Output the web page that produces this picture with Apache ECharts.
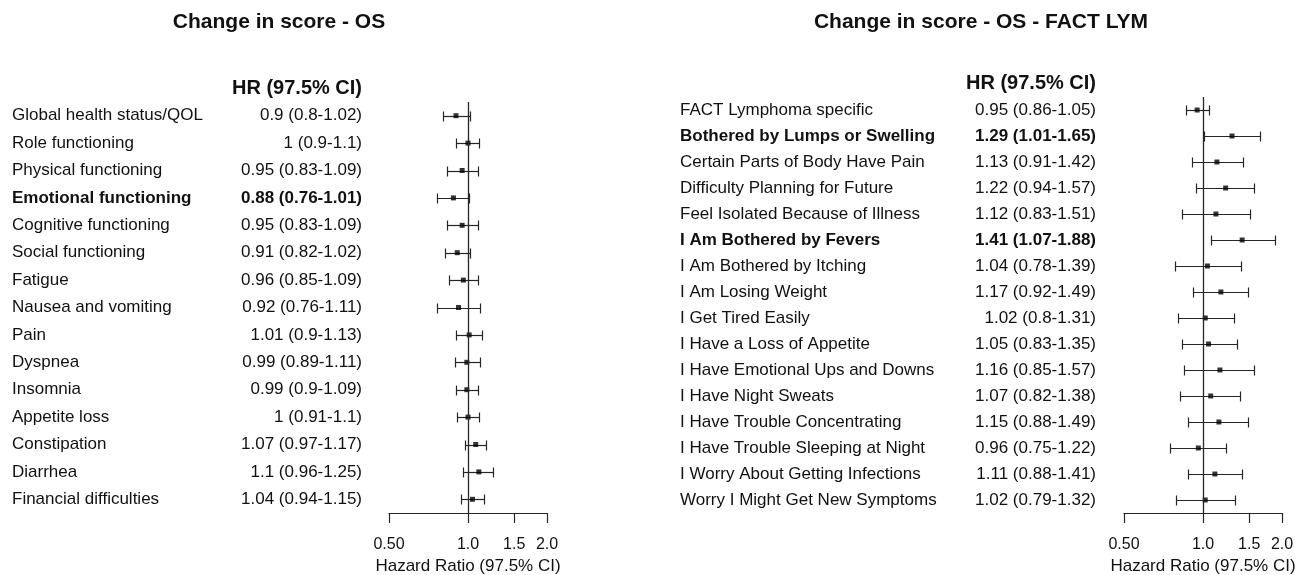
<!DOCTYPE html>
<html><head><meta charset="utf-8">
<script src="https://cdn.jsdelivr.net/npm/echarts@6/dist/echarts.min.js"></script>
<style>html,body{margin:0;padding:0;background:#fff}#c{width:1307px;height:575px}</style>
</head><body><div id="c"></div>
<script>
const leftTitle = 'Change in score - OS';
const rightTitle = 'Change in score - OS - FACT LYM';
const headerText = 'HR (97.5% CI)';
const axisName = 'Hazard Ratio (97.5% CI)';
const tickValues = [0.5, 1, 1.5, 2];
const tickLabels = ['0.50', '1.0', '1.5', '2.0'];

const leftNames = ['Global health status/QOL', 'Role functioning', 'Physical functioning', 'Emotional functioning',
  'Cognitive functioning', 'Social functioning', 'Fatigue', 'Nausea and vomiting', 'Pain', 'Dyspnea',
  'Insomnia', 'Appetite loss', 'Constipation', 'Diarrhea', 'Financial difficulties'];
const leftHR = [0.9, 1, 0.95, 0.88, 0.95, 0.91, 0.96, 0.92, 1.01, 0.99, 0.99, 1, 1.07, 1.1, 1.04];
const leftLo = [0.8, 0.9, 0.83, 0.76, 0.83, 0.82, 0.85, 0.76, 0.9, 0.89, 0.9, 0.91, 0.97, 0.96, 0.94];
const leftHi = [1.02, 1.1, 1.09, 1.01, 1.09, 1.02, 1.09, 1.11, 1.13, 1.11, 1.09, 1.1, 1.17, 1.25, 1.15];
const leftBold = ['Emotional functioning'];

const rightNames = ['FACT Lymphoma specific', 'Bothered by Lumps or Swelling', 'Certain Parts of Body Have Pain',
  'Difficulty Planning for Future', 'Feel Isolated Because of Illness', 'I Am Bothered by Fevers',
  'I Am Bothered by Itching', 'I Am Losing Weight', 'I Get Tired Easily', 'I Have a Loss of Appetite',
  'I Have Emotional Ups and Downs', 'I Have Night Sweats', 'I Have Trouble Concentrating',
  'I Have Trouble Sleeping at Night', 'I Worry About Getting Infections', 'Worry I Might Get New Symptoms'];
const rightHR = [0.95, 1.29, 1.13, 1.22, 1.12, 1.41, 1.04, 1.17, 1.02, 1.05, 1.16, 1.07, 1.15, 0.96, 1.11, 1.02];
const rightLo = [0.86, 1.01, 0.91, 0.94, 0.83, 1.07, 0.78, 0.92, 0.8, 0.83, 0.85, 0.82, 0.88, 0.75, 0.88, 0.79];
const rightHi = [1.05, 1.65, 1.42, 1.57, 1.51, 1.88, 1.39, 1.49, 1.31, 1.35, 1.57, 1.38, 1.49, 1.22, 1.41, 1.32];
const rightBold = ['Bothered by Lumps or Swelling', 'I Am Bothered by Fevers'];

const FONT = '"Liberation Sans", Arial, Helvetica, sans-serif';
const TXT = '#111';
const LINE = '#262626';

const panels = [
  { title: leftTitle, titleX: 279, headerX: 362, headerY: 78, names: leftNames, hr: leftHR, lo: leftLo, hi: leftHi, bold: leftBold,
    grid: { left: 389, width: 158, top: 102, bottom: 62 }, textLeft: 12, valRight: 362 },
  { title: rightTitle, titleX: 981, headerX: 1096, headerY: 73, names: rightNames, hr: rightHR, lo: rightLo, hi: rightHi, bold: rightBold,
    grid: { left: 1124, width: 158, top: 97, bottom: 62 }, textLeft: 680, valRight: 1096 }
];

function renderBar(params, api) {
  const a = api.coord([api.value(0), api.value(2)]);
  const b = api.coord([api.value(1), api.value(2)]);
  const h = 5;
  const y = Math.round(a[1]) + 0.5;
  const x1 = Math.round(a[0]) + 0.5, x2 = Math.round(b[0]) + 0.5;
  const style = { stroke: LINE, lineWidth: 1.2 };
  return { type: 'group', children: [
    { type: 'line', shape: { x1: x1, y1: y, x2: x2, y2: y }, style: style },
    { type: 'line', shape: { x1: x1, y1: y - h, x2: x1, y2: y + h }, style: style },
    { type: 'line', shape: { x1: x2, y1: y - h, x2: x2, y2: y + h }, style: style }
  ]};
}

const option = { backgroundColor: '#fff', animation: false, title: [], grid: [], xAxis: [], yAxis: [], series: [] };
const richStyle = {
  n: { fontFamily: FONT, fontSize: 17, color: TXT },
  b: { fontFamily: FONT, fontSize: 17, color: TXT, fontWeight: 'bold' }
};

panels.forEach(function (p, gi) {
  option.title.push({ text: p.title, left: p.titleX, top: 12, textAlign: 'center', padding: 0,
    textStyle: { fontFamily: FONT, fontSize: 21, fontWeight: 'bold', color: TXT } });
  option.title.push({ text: headerText, left: p.headerX, top: p.headerY, textAlign: 'right', padding: 0,
    textStyle: { fontFamily: FONT, fontSize: 20, fontWeight: 'bold', color: TXT } });
  option.grid.push(Object.assign({ containLabel: false, outerBoundsMode: 'none' }, p.grid));
  const valueLabels = p.names.map(function (n, i) { return p.hr[i] + ' (' + p.lo[i] + '-' + p.hi[i] + ')'; });
  const xLog = option.xAxis.length;
  option.xAxis.push({ type: 'log', logBase: 2, gridIndex: gi, min: 0.5, max: 2, show: false });
  option.xAxis.push({ type: 'value', gridIndex: gi, min: -1, max: 1, position: 'bottom',
    axisLine: { show: true, lineStyle: { color: LINE, width: 1.2 } },
    axisTick: { show: true, inside: false, length: 10, lineStyle: { color: LINE, width: 1.2 }, customValues: tickValues.map(Math.log2) },
    axisLabel: { show: true, margin: 24, fontFamily: FONT, fontSize: 16, color: TXT, customValues: tickValues.map(Math.log2),
      formatter: function (v) {
        let best = 0;
        tickValues.forEach(function (t, i) { if (Math.abs(Math.log2(t) - v) < Math.abs(Math.log2(tickValues[best]) - v)) best = i; });
        return tickLabels[best];
      } },
    splitLine: { show: false },
    name: axisName, nameLocation: 'middle', nameGap: 43,
    nameTextStyle: { fontFamily: FONT, fontSize: 17, color: TXT } });
  const yNames = option.yAxis.length;
  const isBold = function (name) { return p.bold.indexOf(name) >= 0; };
  option.yAxis.push({ type: 'category', gridIndex: gi, data: p.names, inverse: true, position: 'left',
    axisLine: { show: false }, axisTick: { show: false }, splitLine: { show: false },
    axisLabel: { interval: 0, align: 'left', margin: p.grid.left - p.textLeft, rich: richStyle,
      formatter: function (v) { return (isBold(v) ? '{b|' : '{n|') + v + '}'; } } });
  option.yAxis.push({ type: 'category', gridIndex: gi, data: valueLabels, inverse: true, position: 'left',
    axisLine: { show: false }, axisTick: { show: false }, splitLine: { show: false },
    axisLabel: { interval: 0, align: 'right', margin: p.grid.left - p.valRight, rich: richStyle,
      formatter: function (v, i) { return (isBold(p.names[i]) ? '{b|' : '{n|') + v + '}'; } } });
  option.series.push({ type: 'custom', xAxisIndex: xLog, yAxisIndex: yNames, renderItem: renderBar,
    encode: { x: [0, 1], y: 2 }, silent: true,
    data: p.names.map(function (n, i) { return [p.lo[i], p.hi[i], i]; }) });
  option.series.push({ type: 'scatter', xAxisIndex: xLog, yAxisIndex: yNames, symbol: 'rect', symbolSize: 5,
    itemStyle: { color: '#000' }, silent: true, z: 3,
    data: p.names.map(function (n, i) { return [p.hr[i], i]; }),
    markLine: { silent: true, symbol: 'none', label: { show: false },
      lineStyle: { color: LINE, width: 1.3, type: 'solid' }, data: [{ xAxis: 1 }] } });
});

const chart = echarts.init(document.getElementById('c'), null, { renderer: 'canvas' });
chart.setOption(option);
</script>
</body></html>
